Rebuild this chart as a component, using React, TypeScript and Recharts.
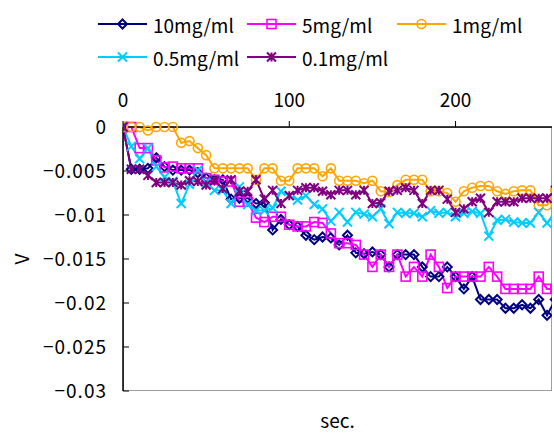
import React from 'react';
import { LineChart, Line, XAxis, YAxis, ReferenceArea } from 'recharts';

// sampling times (sec.)
const times = [
  0, 5, 10, 15, 20, 25, 30, 35, 40, 45, 50, 55, 60, 65, 70, 75, 80, 85, 90, 95,
  100, 105, 110, 115, 120, 125, 130, 135, 140, 145, 150, 155, 160, 165, 170, 175, 180, 185, 190, 195,
  200, 205, 210, 215, 220, 225, 230, 235, 240, 245, 250, 255, 260,
];

const mg10 = [
  0, -0.0048, -0.0048, -0.0047, -0.0035, -0.0045, -0.0049, -0.0049, -0.0049, -0.0052, -0.0058, -0.006, -0.006, -0.0082, -0.0081, -0.0081, -0.0087, -0.0086, -0.0117, -0.0105,
  -0.0111, -0.0113, -0.0123, -0.0128, -0.0125, -0.0126, -0.0134, -0.0123, -0.0143, -0.0144, -0.0142, -0.0145, -0.0159, -0.0145, -0.0145, -0.0145, -0.0159, -0.017, -0.017, -0.0159,
  -0.017, -0.0184, -0.017, -0.0196, -0.0196, -0.0196, -0.0206, -0.0206, -0.0202, -0.0206, -0.0196, -0.0214, -0.0196,
];
const mg5 = [
  0, 0, -0.0024, -0.0024, -0.0038, -0.0046, -0.0045, -0.0047, -0.0047, -0.0047, -0.0058, -0.006, -0.0062, -0.0062, -0.0085, -0.0085, -0.0103, -0.0108, -0.0102, -0.0102,
  -0.0111, -0.0113, -0.0113, -0.0108, -0.0109, -0.0121, -0.0132, -0.0132, -0.0134, -0.0145, -0.0159, -0.0145, -0.0159, -0.0145, -0.017, -0.0159, -0.017, -0.0145, -0.0159, -0.0183,
  -0.017, -0.017, -0.017, -0.017, -0.0159, -0.017, -0.0184, -0.0184, -0.0184, -0.0184, -0.017, -0.0184, -0.0184,
];
const mg1 = [
  0, 0, 0, -0.0004, 0, 0, 0, -0.0018, -0.0016, -0.0024, -0.0032, -0.0047, -0.0047, -0.0047, -0.0047, -0.0047, -0.006, -0.0047, -0.0047, -0.0061,
  -0.0061, -0.0047, -0.0047, -0.0047, -0.0056, -0.0047, -0.0061, -0.0061, -0.0061, -0.0064, -0.0061, -0.0073, -0.0074, -0.0066, -0.006, -0.006, -0.006, -0.0073, -0.0073, -0.0075,
  -0.0085, -0.0073, -0.0069, -0.0067, -0.0067, -0.0073, -0.0076, -0.0073, -0.0072, -0.0072, -0.0089, -0.0089, -0.0072,
];
const mg05 = [
  0, -0.0022, -0.0036, -0.0024, -0.0045, -0.0057, -0.0062, -0.0087, -0.0065, -0.0049, -0.0063, -0.0072, -0.0072, -0.0087, -0.0068, -0.0088, -0.0095, -0.0095, -0.0092, -0.0073,
  -0.0078, -0.0083, -0.0078, -0.0088, -0.0093, -0.0107, -0.0097, -0.0108, -0.0097, -0.0099, -0.0102, -0.0093, -0.011, -0.0097, -0.0098, -0.0098, -0.0102, -0.0095, -0.0098, -0.0097,
  -0.0102, -0.0098, -0.0096, -0.0098, -0.0124, -0.0106, -0.0105, -0.0108, -0.0109, -0.0109, -0.0097, -0.0109, -0.0097,
];
const mg01 = [
  0, -0.0048, -0.0048, -0.0055, -0.0063, -0.0063, -0.0063, -0.0066, -0.0061, -0.0062, -0.0066, -0.0061, -0.007, -0.006, -0.0073, -0.0073, -0.006, -0.0082, -0.0072, -0.0087,
  -0.0078, -0.0072, -0.0069, -0.0069, -0.0073, -0.0077, -0.0072, -0.0072, -0.0077, -0.0072, -0.0087, -0.0086, -0.0073, -0.0072, -0.0069, -0.0072, -0.0087, -0.0072, -0.0072, -0.0082,
  -0.0097, -0.0093, -0.0085, -0.0081, -0.0097, -0.0085, -0.0085, -0.0085, -0.0081, -0.0081, -0.0081, -0.0081, -0.0072,
];

const xTicks = [0, 100, 200];
const yTicks = [0, -0.005, -0.01, -0.015, -0.02, -0.025, -0.03];

const seriesList = [
  { key: 'mg10', name: '10mg/ml', color: '#000080', shape: 'diamond', values: mg10 },
  { key: 'mg5', name: '5mg/ml', color: '#FF00FF', shape: 'square', values: mg5 },
  { key: 'mg1', name: '1mg/ml', color: '#FFA500', shape: 'circle', values: mg1 },
  { key: 'mg05', name: '0.5mg/ml', color: '#00CCFF', shape: 'x', values: mg05 },
  { key: 'mg01', name: '0.1mg/ml', color: '#800080', shape: 'star', values: mg01 },
];

const data = times.map((t, i) => {
  const row: Record<string, number> = { t };
  seriesList.forEach((s) => (row[s.key] = s.values[i]));
  return row;
});

const FONT = '"Noto Sans CJK JP", "Noto Sans", sans-serif';

function Marker({ shape, cx, cy, color }: { shape: string; cx: number; cy: number; color: string }) {
  if (cx == null || cy == null) return null;
  const r = 4.5;
  const common = { fill: 'none', stroke: color, strokeWidth: 1.6 };
  switch (shape) {
    case 'diamond':
      return <path d={`M${cx},${cy - r}L${cx + r},${cy}L${cx},${cy + r}L${cx - r},${cy}Z`} {...common} strokeWidth={2} />;
    case 'square':
      return <rect x={cx - r} y={cy - r} width={r * 2} height={r * 2} {...common} />;
    case 'circle':
      return <circle cx={cx} cy={cy} r={r} {...common} />;
    case 'x':
      return <path d={`M${cx - r},${cy - r}L${cx + r},${cy + r}M${cx - r},${cy + r}L${cx + r},${cy - r}`} {...common} strokeWidth={2} />;
    default:
      return (
        <path
          d={`M${cx - r},${cy - r}L${cx + r},${cy + r}M${cx - r},${cy + r}L${cx + r},${cy - r}M${cx},${cy - r}L${cx},${cy + r}`}
          {...common}
          strokeWidth={2}
        />
      );
  }
}

const legendPos = [
  { left: 98, top: 24 },
  { left: 247, top: 24 },
  { left: 397, top: 24 },
  { left: 98, top: 57 },
  { left: 247, top: 57 },
];

const ChartLegend = () => (
  <div style={{ position: 'absolute', left: 0, top: 0, width: 554, height: 80, pointerEvents: 'none' }}>
    {seriesList.map((s, i) => (
      <div
        key={s.key}
        style={{
          position: 'absolute',
          left: legendPos[i].left,
          top: legendPos[i].top - 12,
          height: 24,
          display: 'flex',
          alignItems: 'center',
          fontFamily: FONT,
          fontSize: 19,
          color: '#000',
          whiteSpace: 'nowrap',
        }}
      >
        <svg width={49} height={16} style={{ marginRight: 6 }}>
          <line x1={0} y1={8} x2={49} y2={8} stroke={s.color} strokeWidth={2} />
          <Marker shape={s.shape} cx={24.5} cy={8} color={s.color} />
        </svg>
        <span>{s.name}</span>
      </div>
    ))}
  </div>
);

const fmtY = (v: number) => (v === 0 ? '0' : '\u2212' + Math.abs(v));

const VLabel = (props: any) => {
  const vb = props.viewBox || {};
  const cx = 20;
  const cy = (vb.y ?? 127) + (vb.height ?? 264) / 2;
  return (
    <text
      x={cx}
      y={cy}
      transform={`rotate(-90, ${cx}, ${cy})`}
      textAnchor="middle"
      dominantBaseline="central"
      fill="#000"
      fontSize={19}
      fontFamily={FONT}
    >
      V
    </text>
  );
};

export default function App() {
  return (
    <div style={{ position: 'absolute', left: 0, top: 0, width: 554, height: 438, background: '#fff' }}>
      <LineChart width={554} height={438} data={data} margin={{ top: 0, right: 2, bottom: 0, left: 0 }}>
        <ReferenceArea x1={0} x2={258} y1={-0.03} y2={0} fill="none" stroke="#808080" strokeWidth={1.5} ifOverflow="hidden" />
        <XAxis
          dataKey="t"
          type="number"
          orientation="top"
          domain={[0, 258]}
          allowDataOverflow
          ticks={xTicks}
          height={127}
          tickSize={6}
          tickMargin={14}
          axisLine={{ stroke: '#000', strokeWidth: 1.5 }}
          tickLine={{ stroke: '#000' }}
          tick={{ fill: '#000', fontSize: 19, fontFamily: FONT }}
        />
        <XAxis
          xAxisId="b"
          dataKey="t"
          type="number"
          orientation="bottom"
          domain={[0, 258]}
          allowDataOverflow
          height={47}
          tick={false}
          tickLine={false}
          axisLine={false}
          label={{ value: 'sec.', position: 'insideBottom', offset: 10, fill: '#000', fontSize: 19, fontFamily: FONT }}
        />
        <YAxis
          type="number"
          domain={[-0.03, 0]}
          ticks={yTicks}
          width={123}
          tickSize={-6}
          tickMargin={22}
          tickFormatter={fmtY}
          axisLine={{ stroke: '#000', strokeWidth: 1.5 }}
          tickLine={{ stroke: '#000' }}
          tick={{ fill: '#000', fontSize: 19, fontFamily: FONT, letterSpacing: 1 }}
          label={<VLabel />}
        />
        {seriesList.map((s) => (
          <Line
            key={s.key}
            dataKey={s.key}
            name={s.name}
            type="linear"
            stroke={s.color}
            strokeWidth={2}
            isAnimationActive={false}
            dot={(p: any) => <Marker key={`${s.key}-${p.index}`} shape={s.shape} cx={p.cx} cy={p.cy} color={s.color} />}
            activeDot={false}
          />
        ))}
      </LineChart>
      <ChartLegend />
    </div>
  );
}
